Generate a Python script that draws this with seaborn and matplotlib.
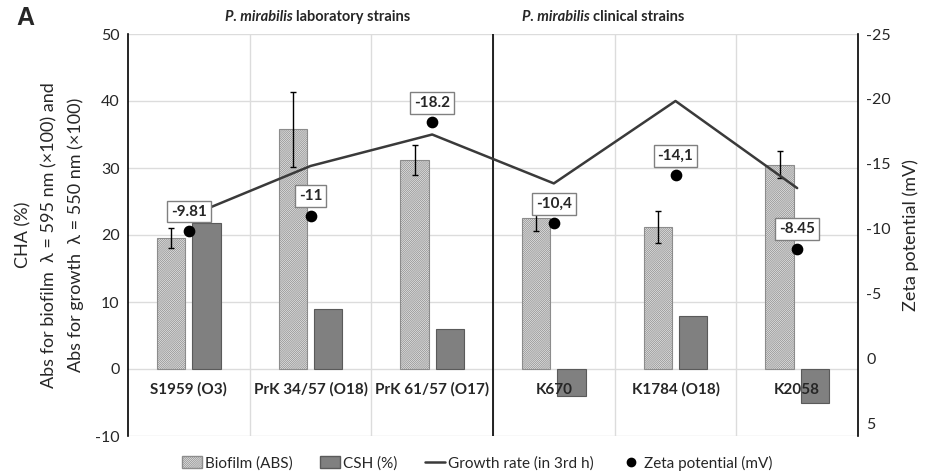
import matplotlib
matplotlib.use('Agg')
import matplotlib.pyplot as plt
import matplotlib.patches as mpatches
from matplotlib.lines import Line2D
import seaborn as sns
import pandas as pd
import numpy as np

# values
strains = ['S1959 (O3)', 'PrK 34/57 (O18)', 'PrK 61/57 (O17)', 'K670', 'K1784 (O18)', 'K2058']
biofilm = [19.6, 35.8, 31.2, 22.6, 21.2, 30.5]
biofilm_err = [1.5, 5.6, 2.3, 2.0, 2.4, 2.0]
csh = [21.8, 8.9, 5.9, -4.1, 7.9, -5.1]
growth = [22.8, 30.3, 35.0, 27.7, 40.0, 27.0]
zeta = [-9.81, -11, -18.2, -10.4, -14.1, -8.45]
zeta_labels = ['-9.81', '-11', '-18.2', '-10,4', '-14,1', '-8.45']

sns.set_style('white')
plt.rcParams['font.family'] = ['Lato', 'DejaVu Sans']
plt.rcParams['axes.unicode_minus'] = False
plt.rcParams['hatch.linewidth'] = 0.5

df = pd.DataFrame({
    'strain': strains * 2,
    'value': biofilm + csh,
    'series': ['Biofilm (ABS)'] * len(strains) + ['CSH (%)'] * len(strains),
})

fig = plt.figure(figsize=(9.31, 4.76), dpi=100)
ax = fig.add_axes([128 / 931, 1 - 436 / 476, 730 / 931, 402 / 476])

sns.barplot(data=df, x='strain', y='value', hue='series', order=strains,
            palette=['#e6e6e6', '#808080'], width=0.58, gap=0.2,
            errorbar=None, legend=False, ax=ax, zorder=3)

n = len(strains)
bio_bars = ax.patches[:n]
csh_bars = ax.patches[n:2 * n]
for b in bio_bars:
    b.set_hatch('////////////////')
    b.set_edgecolor('#8c8c8c')
    b.set_linewidth(0.8)
for b in csh_bars:
    b.set_edgecolor('#5a5a5a')
    b.set_linewidth(0.8)

# error bars on the biofilm bars
bx = [b.get_x() + b.get_width() / 2 for b in bio_bars]
ax.errorbar(bx, biofilm, yerr=biofilm_err, fmt='none', ecolor='black',
            elinewidth=1, capsize=2.5, capthick=1, zorder=4)

# growth rate line
x = np.arange(n)
ax.plot(x, growth, color='#3a3a3a', lw=1.8, zorder=5)

ax.set_ylim(-10, 50)
ax.set_xlim(-0.5, n - 0.5)
ax.set_yticks(range(-10, 51, 10))
ax.set_xticks([])
ax.set_xticks(np.arange(n - 1) + 0.5, minor=True)
ax.tick_params(axis='x', which='both', length=0, labelbottom=False)
ax.tick_params(axis='y', length=0, labelsize=11.5, pad=6)
ax.grid(axis='y', color='#dcdcdc', lw=1, zorder=0)
ax.grid(axis='x', which='minor', color='#dcdcdc', lw=1, zorder=0)
ax.axvline(2.5, color='black', lw=1.2, zorder=2)
for s in ['top', 'bottom', 'right']:
    ax.spines[s].set_visible(False)
ax.spines['left'].set_color('black')
ax.spines['left'].set_linewidth(1.2)
ax.set_xlabel('')
ax.set_ylabel('CHA (%)\nAbs for biofilm  \u03bb = 595 nm (\u00d7100) and\nAbs for growth  \u03bb = 550 nm (\u00d7100)',
              fontsize=13, linespacing=1.75, labelpad=8)

for i, s in enumerate(strains):
    ax.text(i, -3.1, s, ha='center', va='center', fontsize=11, fontweight='bold', zorder=6)

# zeta potential on the right, inverted
ax2 = ax.twinx()
ax2.scatter(x, zeta, s=55, color='black', zorder=6)
ax2.set_ylim(6, -25)
ax2.set_yticks(range(-25, 6, 5))
ax2.tick_params(axis='y', length=0, labelsize=11.5, pad=6)
for s in ['top', 'bottom', 'left']:
    ax2.spines[s].set_visible(False)
ax2.spines['right'].set_color('black')
ax2.spines['right'].set_linewidth(1.2)
ax2.set_ylabel('Zeta potential (mV)', fontsize=13, labelpad=8)
for xi, z, lab in zip(x, zeta, zeta_labels):
    ax2.annotate(lab, (xi, z), xytext=(0, 14), textcoords='offset points',
                 ha='center', va='center', fontsize=11, fontweight='bold',
                 bbox=dict(boxstyle='square,pad=0.25', fc='white', ec='#808080', lw=1),
                 zorder=7)

# group headings
fig.text(296 / 931, 1 - 17 / 476, 'P. mirabilis ', ha='right', va='center',
         fontsize=10.5, fontweight='bold', style='italic')
fig.text(296 / 931, 1 - 17 / 476, 'laboratory strains', ha='left', va='center',
         fontsize=10.5, fontweight='bold')
fig.text(593 / 931, 1 - 17 / 476, 'P. mirabilis ', ha='right', va='center',
         fontsize=10.5, fontweight='bold', style='italic')
fig.text(593 / 931, 1 - 17 / 476, 'clinical strains', ha='left', va='center',
         fontsize=10.5, fontweight='bold')

fig.text(25 / 931, 1 - 18 / 476, 'A', ha='center', va='center', fontsize=18,
         fontweight='bold', family=['Liberation Sans', 'DejaVu Sans'])

handles = [
    mpatches.Patch(facecolor='#e6e6e6', edgecolor='#8c8c8c', hatch='////////////////', label='Biofilm (ABS)'),
    mpatches.Patch(facecolor='#808080', edgecolor='#5a5a5a', label='CSH (%)'),
    Line2D([], [], color='#3a3a3a', lw=1.8, label='Growth rate (in 3rd h)'),
    Line2D([], [], marker='o', color='black', ls='none', markersize=6, label='Zeta potential (mV)'),
]
fig.legend(handles=handles, loc='center', bbox_to_anchor=(477 / 931, 1 - 463 / 476),
           ncol=4, frameon=False, fontsize=11, handlelength=1.3, handleheight=0.8,
           handletextpad=0.2, columnspacing=1.8)

fig.savefig('out.png', dpi=100)
